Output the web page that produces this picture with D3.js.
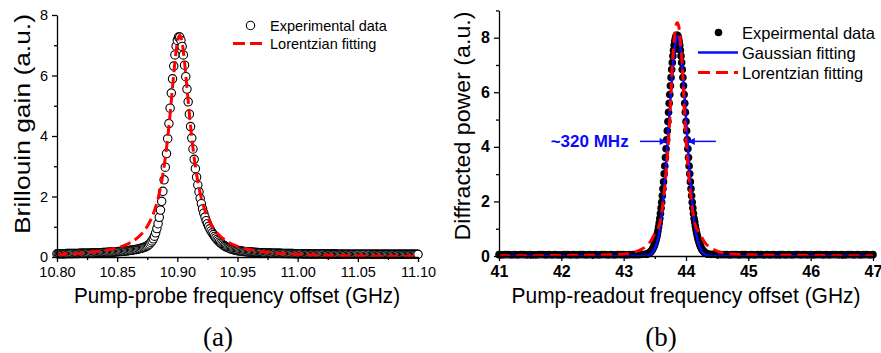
<!DOCTYPE html>
<html>
<head>
<meta charset="utf-8">
<script src="https://cdn.jsdelivr.net/npm/d3@7"></script>
<style>
  body { margin: 0; background: #fff; }
  svg { display: block; }
  .axis path, .axis line { stroke: #000; stroke-width: 1.3px; }
</style>
</head>
<body>
<svg id="chart" width="881" height="353"></svg>
<script>
// ---------- (a) Brillouin gain spectrum ----------
// measured points, 1 MHz apart, starting at 10.800 GHz
var probeStart = 10.800, probeStep = 0.001;
var brillouinGain = [
  .107,.108,.108,.109,.109,.110,.111,.111,.112,.112,
  .113,.114,.115,.115,.116,.117,.118,.119,.119,.120,
  .121,.122,.123,.124,.125,.126,.127,.128,.129,.131,
  .132,.134,.135,.137,.138,.140,.141,.143,.145,.147,
  .149,.151,.153,.155,.158,.160,.163,.165,.168,.171,
  .174,.178,.181,.185,.188,.192,.197,.201,.206,.210,
  .216,.220,.227,.233,.240,.246,.252,.26,.27,.28,
  .29,.30,.31,.33,.35,.37,.40,.43,.48,.53,
  .60,.69,.80,.94,1.10,1.31,1.55,1.84,2.17,2.55,
  2.97,3.42,3.91,4.41,4.92,5.42,5.89,6.31,6.68,6.97,
  7.16,7.27,7.27,7.16,6.96,6.68,6.34,5.96,5.55,5.13,
  4.72,4.31,3.93,3.57,3.23,2.92,2.64,2.38,2.15,1.94,
  1.76,1.59,1.45,1.32,1.20,1.10,1.01,0.93,0.86,0.80,
  .74,.68,.63,.58,.54,.50,.46,.43,.40,.37,
  .35,.33,.31,.29,.275,.26,.25,.24,.23,.22,
  .21,.205,.20,.195,.19,.185,.18,.176,.172,.168,
  .165,.162,.159,.156,.153,.15,.148,.146,.144,.142,
  .14,.138,.136,.134,.132,.131,.13,.129,.128,.127,
  .126,.125,.124,.123,.122,.121,.120,.119,.118,.117,
  .116,.115,.114,.114,.113,.112,.112,.111,.110,.110,
  .109,.108,.108,.107,.107,.106,.106,.105,.105,.104,
  .104,.103,.103,.102,.102,.101,.101,.100,.100,.100,
  .099,.099,.099,.098,.098,.098,.097,.097,.097,.096,
  .096,.096,.096,.095,.095,.095,.095,.094,.094,.094,
  .094,.093,.093,.093,.093,.093,.092,.092,.092,.092,
  .092,.091,.091,.091,.091,.091,.091,.091,.091,.091,
  .091,.091,.090,.090,.090,.090,.090,.090,.090,.090,
  .090,.089,.089,.089,.089,.089,.089,.089,.089,.089,
  .089,.089,.089,.088,.088,.088,.088,.088,.088,.088,
  .088,.088,.088,.088,.088,.088,.087,.087,.087,.087,
  .087
];
var lorentzAFreq = [10.80,10.82,10.84,10.85,10.86,10.87,10.874,10.878,10.882,10.884,
  10.886,10.888,10.890,10.892,10.894,10.896,10.898,10.900,10.902,10.904,
  10.906,10.908,10.910,10.912,10.914,10.916,10.918,10.920,10.922,10.926,
  10.930,10.934,10.94,10.95,10.96,10.98,11.00,11.03,11.06,11.10];
var lorentzAGain = [0.082,0.126,0.216,0.303,0.454,0.75,0.949,1.234,1.655,1.94,
  2.294,2.735,3.28,3.947,4.732,5.6,6.447,7.087,7.33,7.087,
  6.447,5.6,4.732,3.947,3.28,2.735,2.294,1.94,1.655,1.234,
  0.949,0.75,0.548,0.353,0.246,0.138,0.088,0.052,0.034,0.022];
var xTicksA = [10.80, 10.85, 10.90, 10.95, 11.00, 11.05, 11.10];
var xMinorA = [10.825, 10.875, 10.925, 10.975, 11.025, 11.075];
var yTicksA = [0, 2, 4, 6, 8];
var yMinorA = [1, 3, 5, 7];

// ---------- (b) diffracted power ----------
var readoutFreq = [
  41.00,41.05,41.10,41.15,41.20,41.25,41.30,41.35,41.40,41.45,
  41.50,41.55,41.60,41.65,41.70,41.75,41.80,41.85,41.90,41.95,
  42.00,42.05,42.10,42.15,42.20,42.25,42.30,42.35,42.40,42.45,
  42.50,42.55,42.60,42.65,42.70,42.75,42.80,42.85,42.90,42.95,
  43.00,43.05,43.10,43.15,43.20,43.25,43.30,
  43.36,43.37,43.38,43.39,43.40,43.41,43.42,43.43,43.44,43.45,
  43.46,43.47,43.48,43.49,43.50,43.51,43.52,43.53,43.54,43.55,
  43.56,43.57,43.58,43.59,43.60,43.61,43.62,43.63,43.64,43.65,
  43.66,43.67,43.68,43.69,43.70,43.71,43.72,43.73,43.74,43.75,
  43.76,43.77,43.78,43.79,43.80,43.81,43.82,43.83,43.84,43.85,
  43.86,43.87,43.88,43.89,43.90,43.91,43.92,43.93,43.94,43.95,
  43.96,43.97,43.98,43.99,44.00,44.01,44.02,44.03,44.04,44.05,
  44.06,44.07,44.08,44.09,44.10,44.11,44.12,44.13,44.14,44.15,
  44.16,44.17,44.18,44.19,44.20,44.21,44.22,44.23,44.24,44.25,
  44.26,44.27,44.28,44.29,44.30,44.31,44.32,44.33,44.34,44.35,
  44.40,44.45,44.50,44.55,44.60,44.65,44.70,44.75,44.80,44.85,
  44.90,44.95,45.00,45.05,45.10,45.15,45.20,45.25,45.30,45.35,
  45.40,45.45,45.50,45.55,45.60,45.65,45.70,45.75,45.80,45.85,
  45.90,45.95,46.00,46.05,46.10,46.15,46.20,46.25,46.30,46.35,
  46.40,46.45,46.50,46.55,46.60,46.65,46.70,46.75,46.80,46.85,
  46.90,46.95,47.00
];
var readoutPower = [
  .05,.04,.05,.05,.04,.05,.04,.05,.05,.04,
  .05,.04,.04,.05,.05,.04,.05,.04,.05,.04,
  .04,.05,.05,.04,.05,.04,.05,.05,.04,.05,
  .04,.05,.04,.05,.05,.04,.05,.04,.05,.05,
  .05,.04,.05,.05,.05,.05,.06,
  .06,.07,.08,.09,.10,.11,.13,.15,.17,.20,
  .24,.28,.32,.38,.44,.52,.60,.69,.80,.92,
  1.06,1.21,1.37,1.56,1.76,1.97,2.21,2.46,2.72,3.01,
  3.30,3.61,3.93,4.26,4.59,4.93,5.27,5.60,5.92,6.24,
  6.54,6.83,7.09,7.33,7.54,7.72,7.87,7.98,8.06,8.09,
  8.09,8.06,7.98,7.87,7.72,7.54,7.33,7.09,6.83,6.54,
  6.24,5.92,5.60,5.27,4.93,4.59,4.26,3.93,3.61,3.30,
  3.01,2.72,2.46,2.21,1.97,1.76,1.56,1.37,1.25,1.10,
  .97,.85,.75,.66,.58,.50,.43,.37,.32,.27,
  .23,.20,.17,.15,.13,.11,.10,.09,.08,.07,
  .06,.06,.05,.05,.05,.05,.04,.05,.05,.04,
  .05,.05,.04,.05,.04,.05,.05,.04,.05,.04,
  .05,.04,.05,.05,.04,.05,.04,.05,.05,.04,
  .05,.04,.05,.04,.05,.05,.04,.05,.04,.05,
  .05,.04,.05,.04,.05,.05,.04,.05,.04,.05,
  .05,.04,.05
];
var gaussBFreq = [41.0,42.0,43.0,43.265,43.365,43.415,43.465,43.49,43.515,43.54,
  43.565,43.59,43.615,43.64,43.665,43.69,43.715,43.74,43.765,43.79,
  43.815,43.84,43.865,43.89,43.915,43.94,43.965,43.99,44.015,44.04,
  44.065,44.09,44.115,44.14,44.165,44.19,44.215,44.24,44.265,44.315,
  44.365,44.465,45.0,46.0,47.0];
var gaussBPower = [0,0,0,0.001,0.014,0.046,0.136,0.223,0.354,0.544,
  0.81,1.17,1.63,2.21,2.90,3.69,4.53,5.40,6.24,6.97,
  7.55,7.92,8.05,7.92,7.55,6.97,6.24,5.40,4.53,3.69,
  2.90,2.21,1.63,1.17,0.81,0.544,0.354,0.223,0.136,0.046,
  0.014,0.001,0,0,0];
var lorentzBFreq = [41.0,41.5,42.0,42.5,42.8,43.0,43.11,43.26,43.34,43.42,
  43.5,43.58,43.62,43.67,43.70,43.74,43.78,43.81,43.835,43.86,
  43.885,43.91,43.94,43.98,44.02,44.05,44.10,44.14,44.22,44.30,
  44.38,44.46,44.61,44.73,44.92,45.5,46.0,46.5,47.0];
var lorentzBPower = [.01,.01,.02,.03,.05,.07,.10,.22,.32,.50,
  .83,1.2,1.75,2.78,3.6,5.0,7.0,7.9,8.4,8.55,
  8.4,7.9,7.0,5.0,3.6,2.78,1.75,1.2,.83,.50,
  .32,.22,.10,.07,.05,.03,.02,.01,.01];
var xTicksB = [41, 42, 43, 44, 45, 46, 47];
var xMinorB = [41.5, 42.5, 43.5, 44.5, 45.5, 46.5];
var yTicksB = [0, 2, 4, 6, 8];
var yMinorB = [1, 3, 5, 7, 9];
// FWHM marker
var fwhmLevel = 4.2, fwhmLeft = 43.69, fwhmRight = 44.03;
var fwhmLeftTail = 43.26, fwhmRightTail = 44.48, fwhmLabelEnd = 43.08;

var sans = '"Liberation Sans", Arial, Helvetica, sans-serif';
var red = "#ff0000", blue = "#0a0aff";

var svg = d3.select("#chart");
svg.append("rect").attr("width", 881).attr("height", 353).attr("fill", "#fff");

svg.append("defs").append("marker")
    .attr("id", "arrow")
    .attr("viewBox", "0 0 10 10")
    .attr("refX", 10).attr("refY", 5)
    .attr("markerWidth", 9).attr("markerHeight", 7)
    .attr("markerUnits", "userSpaceOnUse")
    .attr("orient", "auto")
  .append("path")
    .attr("d", "M0,0L10,5L0,10Z")
    .attr("fill", blue);

function drawAxes(x, y, xMajor, xMinor, yMajor, yMinor, xFmt, fontSize, weight) {
  var y0 = y.range()[0], x0 = x.range()[0];
  var gx = svg.append("g").attr("class", "axis").attr("transform", "translate(0," + y0 + ")")
      .call(d3.axisBottom(x).tickValues(xMajor).tickSize(5).tickSizeOuter(0).tickPadding(5).tickFormat(xFmt));
  svg.append("g").attr("class", "axis").attr("transform", "translate(0," + y0 + ")")
      .call(d3.axisBottom(x).tickValues(xMinor).tickSize(3).tickFormat(""))
      .select(".domain").remove();
  var gy = svg.append("g").attr("class", "axis").attr("transform", "translate(" + x0 + ",0)")
      .call(d3.axisLeft(y).tickValues(yMajor).tickSize(5).tickSizeOuter(0).tickPadding(4).tickFormat(d3.format("d")));
  svg.append("g").attr("class", "axis").attr("transform", "translate(" + x0 + ",0)")
      .call(d3.axisLeft(y).tickValues(yMinor).tickSize(3).tickFormat(""))
      .select(".domain").remove();
  [gx, gy].forEach(function(g) {
    g.selectAll("text")
      .attr("fill", "#000")
      .style("font-family", sans)
      .style("font-size", fontSize + "px")
      .style("font-weight", weight);
  });
}

function axisTitle(txt, x, y, len, rotate) {
  svg.append("text")
    .attr("transform", "translate(" + x + "," + y + ")" + (rotate ? " rotate(-90)" : ""))
    .attr("text-anchor", "middle")
    .attr("textLength", len)
    .attr("lengthAdjust", "spacingAndGlyphs")
    .style("font-family", sans)
    .style("font-size", "22px")
    .text(txt);
}

// ---------- panel (a) ----------
var xA = d3.scaleLinear().domain([10.80, 11.10]).range([57, 418]);
var yA = d3.scaleLinear().domain([0, 8]).range([257, 15]);

var gainData = brillouinGain.map(function(v, i) { return { f: probeStart + i * probeStep, v: v }; });

svg.append("g").selectAll("circle")
    .data(gainData)
    .enter().append("circle")
    .attr("cx", function(d) { return xA(d.f); })
    .attr("cy", function(d) { return yA(d.v); })
    .attr("r", 4.2)
    .attr("fill", "#fff")
    .attr("stroke", "#000")
    .attr("stroke-width", 1.1);

var lineA = d3.line()
    .x(function(d, i) { return xA(lorentzAFreq[i]); })
    .y(function(d) { return yA(d); })
    .curve(d3.curveMonotoneX);

svg.append("path")
    .attr("d", lineA(lorentzAGain))
    .attr("fill", "none")
    .attr("stroke", red)
    .attr("stroke-width", 3)
    .attr("stroke-dasharray", "11,5");

drawAxes(xA, yA, xTicksA, xMinorA, yTicksA, yMinorA, d3.format(".2f"), 14.5, "normal");
axisTitle("Brillouin gain (a.u.)", 30, 124, 220, true);
axisTitle("Pump-probe frequency offset (GHz)", 237, 303, 326, false);

// legend (a)
svg.append("circle").attr("cx", 250.5).attr("cy", 25.5).attr("r", 4.2)
    .attr("fill", "#fff").attr("stroke", "#000").attr("stroke-width", 1.1);
svg.append("line").attr("x1", 233).attr("x2", 265).attr("y1", 43.5).attr("y2", 43.5)
    .attr("stroke", red).attr("stroke-width", 3).attr("stroke-dasharray", "12,5");
svg.selectAll(".legA")
    .data(["Experimental data", "Lorentzian fitting"])
    .enter().append("text")
    .attr("x", 270)
    .attr("y", function(d, i) { return 30.5 + i * 18; })
    .style("font-family", sans)
    .style("font-size", "14.5px")
    .text(function(d) { return d; });

// ---------- panel (b) ----------
var xB = d3.scaleLinear().domain([41, 47]).range([499, 873]);
var yB = d3.scaleLinear().domain([0, 9]).range([256, 10.4]);

svg.append("g").selectAll("circle")
    .data(readoutFreq)
    .enter().append("circle")
    .attr("cx", function(d) { return xB(d); })
    .attr("cy", function(d, i) { return yB(readoutPower[i]); })
    .attr("r", 3.8)
    .attr("fill", "#000");

var lineGauss = d3.line()
    .x(function(d, i) { return xB(gaussBFreq[i]); })
    .y(function(d) { return yB(d); })
    .curve(d3.curveMonotoneX);

svg.append("path")
    .attr("d", lineGauss(gaussBPower))
    .attr("fill", "none")
    .attr("stroke", blue)
    .attr("stroke-width", 2.5);

var lineLorentzB = d3.line()
    .x(function(d, i) { return xB(lorentzBFreq[i]); })
    .y(function(d) { return yB(d); })
    .curve(d3.curveMonotoneX);

svg.append("path")
    .attr("d", lineLorentzB(lorentzBPower))
    .attr("fill", "none")
    .attr("stroke", red)
    .attr("stroke-width", 3)
    .attr("stroke-dasharray", "11,6");

drawAxes(xB, yB, xTicksB, xMinorB, yTicksB, yMinorB, d3.format("d"), 16, "bold");
axisTitle("Diffracted power (a.u.)", 470, 126, 229, true);
axisTitle("Pump-readout frequency offset (GHz)", 686, 303, 349, false);

// FWHM arrows
svg.append("line")
    .attr("x1", xB(fwhmLeftTail)).attr("x2", xB(fwhmLeft))
    .attr("y1", yB(fwhmLevel)).attr("y2", yB(fwhmLevel))
    .attr("stroke", blue).attr("stroke-width", 1.5)
    .attr("marker-end", "url(#arrow)");
svg.append("line")
    .attr("x1", xB(fwhmRightTail)).attr("x2", xB(fwhmRight))
    .attr("y1", yB(fwhmLevel)).attr("y2", yB(fwhmLevel))
    .attr("stroke", blue).attr("stroke-width", 1.5)
    .attr("marker-end", "url(#arrow)");
svg.append("text")
    .attr("x", xB(fwhmLabelEnd))
    .attr("y", yB(fwhmLevel) + 6)
    .attr("text-anchor", "end")
    .attr("fill", blue)
    .style("font-family", sans)
    .style("font-size", "17px")
    .style("font-weight", "bold")
    .text("~320 MHz");

// legend (b)
svg.append("circle").attr("cx", 718.5).attr("cy", 32.5).attr("r", 3.8).attr("fill", "#000");
svg.append("line").attr("x1", 698).attr("x2", 738).attr("y1", 52.5).attr("y2", 52.5)
    .attr("stroke", blue).attr("stroke-width", 2.5);
svg.append("line").attr("x1", 698).attr("x2", 738).attr("y1", 72.5).attr("y2", 72.5)
    .attr("stroke", red).attr("stroke-width", 3).attr("stroke-dasharray", "12,6");
svg.selectAll(".legB")
    .data(["Expeirmental data", "Gaussian fitting", "Lorentzian fitting"])
    .enter().append("text")
    .attr("x", 742)
    .attr("y", function(d, i) { return 38.5 + i * 20; })
    .style("font-family", sans)
    .style("font-size", "16.5px")
    .text(function(d) { return d; });

// panel captions
svg.selectAll(".cap")
    .data(["(a)", "(b)"])
    .enter().append("text")
    .attr("x", function(d, i) { return i ? 661 : 218; })
    .attr("y", 346)
    .attr("text-anchor", "middle")
    .style("font-family", '"Liberation Serif", "Times New Roman", serif')
    .style("font-size", "27px")
    .text(function(d) { return d; });
</script>
</body>
</html>
